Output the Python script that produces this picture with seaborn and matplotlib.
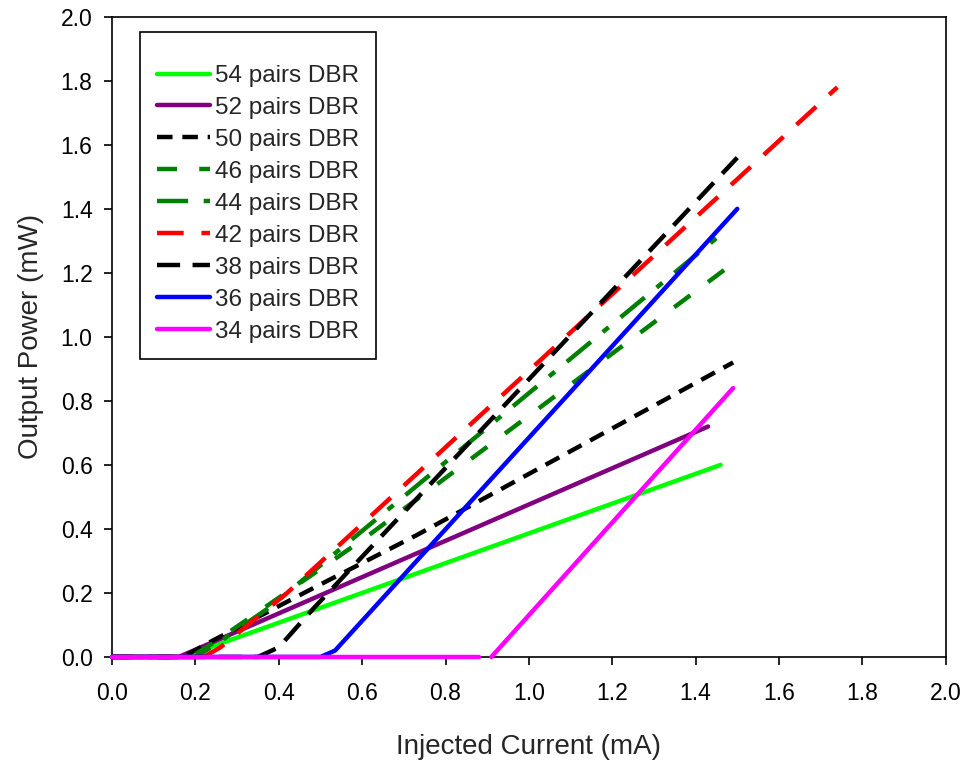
import numpy as np
import pandas as pd
import matplotlib
matplotlib.use("Agg")
import matplotlib.pyplot as plt
import seaborn as sns

# series (current in mA, power in mW)
labels = ["54 pairs DBR", "52 pairs DBR", "50 pairs DBR", "46 pairs DBR", "44 pairs DBR",
          "42 pairs DBR", "38 pairs DBR", "36 pairs DBR", "34 pairs DBR"]

x54 = [0.0, 0.17, 1.46]
y54 = [0.0, 0.0, 0.60]
x52 = [0.0, 0.16, 1.43]
y52 = [0.0, 0.0, 0.72]
x50 = [0.0, 0.17, 0.24, 0.49, 0.73, 1.49]
y50 = [0.0, 0.0, 0.05, 0.22, 0.38, 0.92]
x46 = [0.0, 0.19, 0.25, 0.60, 1.48]
y46 = [0.0, 0.0, 0.05, 0.365, 1.22]
x44 = [0.0, 0.20, 0.25, 0.38, 1.47]
y44 = [0.0, 0.0, 0.04, 0.157, 1.33]
x42 = [0.0, 0.22, 0.26, 0.42, 1.74]
y42 = [0.0, 0.0, 0.03, 0.20, 1.78]
x38 = [0.0, 0.35, 0.40, 0.48, 1.50]
y38 = [0.0, 0.0, 0.03, 0.147, 1.56]
x36 = [0.0, 0.50, 0.535, 1.50]
y36 = [0.0, 0.0, 0.02, 1.40]
x34a = [0.0, 0.88]
y34a = [0.0, 0.0]
x34b = [0.91, 1.49]
y34b = [0.0, 0.84]

colors = ["#00ff00", "#800080", "black", "green", "green", "red", "black", "blue", "#ff00ff"]
styles = ["-", "-", (0, (3.5, 2.2)), (0, (4.5, 5)), (0, (7, 3.5, 1.7, 3.5)),
          (0, (6, 4)), (0, (5.2, 2.8)), "-", "-"]

sns.set_style("ticks")
plt.rcParams["font.family"] = ["Liberation Sans", "DejaVu Sans"]

fig = plt.figure(figsize=(9.66, 7.63), dpi=100)
ax = fig.add_axes([0.116, 0.139, 0.863, 0.839])

series = [(x54, y54), (x52, y52), (x50, y50), (x46, y46), (x44, y44),
          (x42, y42), (x38, y38), (x36, y36), (x34a, y34a)]
for (xs, ys), lab, c, ls in zip(series, labels, colors, styles):
    df = pd.DataFrame({"x": xs, "y": ys})
    sns.lineplot(data=df, x="x", y="y", ax=ax, sort=False, estimator=None,
                 color=c, linewidth=3.2, linestyle=ls, label=lab,
                 clip_on=False, zorder=3)
# second part of the 34 pairs curve
sns.lineplot(x=x34b, y=y34b, ax=ax, sort=False, estimator=None,
             color=colors[-1], linewidth=3.2, clip_on=False, zorder=3)

ticks = np.arange(0, 2.01, 0.2)
ax.set_xlim(0, 2.0)
ax.set_ylim(0, 2.0)
ax.set_xticks(ticks)
ax.set_yticks(ticks)
ax.set_xticklabels([f"{v:.1f}" for v in ticks])
ax.set_yticklabels([f"{v:.1f}" for v in ticks])
ax.tick_params(direction="out", length=6, width=1.2, labelsize=16.5, colors="black")
ax.tick_params(axis="x", pad=12)
ax.tick_params(axis="y", pad=8)
for sp in ax.spines.values():
    sp.set_visible(True)
    sp.set_color("black")
    sp.set_linewidth(1.2)

ax.set_xlabel("Injected Current (mA)", fontsize=20, labelpad=21)
ax.set_ylabel("Output Power (mW)", fontsize=20, labelpad=12)

leg = ax.legend(loc="upper left", bbox_to_anchor=(0.034, 0.977), borderaxespad=0,
                fontsize=17.5, handlelength=2.2, labelspacing=0.41, frameon=True,
                fancybox=False, edgecolor="black", borderpad=0.68, handletextpad=0.2,
                title=" ", title_fontsize=5)
leg.get_frame().set_linewidth(1.2)
leg.get_frame().set_alpha(1)
leg.set_zorder(5)

fig.savefig("out.png", dpi=100)
